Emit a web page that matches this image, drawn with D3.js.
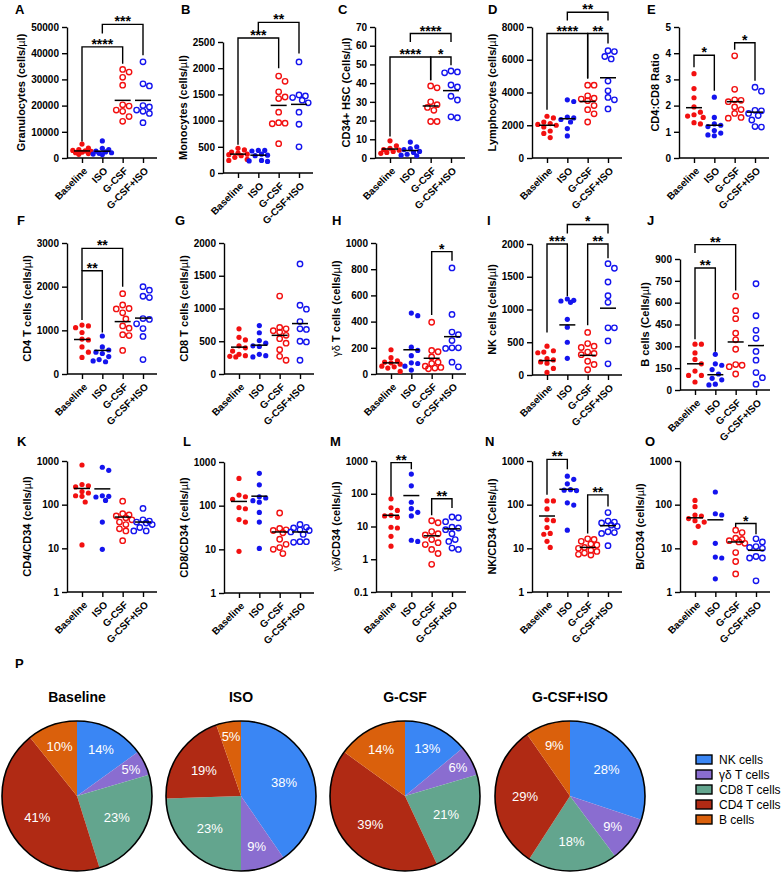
<!DOCTYPE html>
<html lang="en">
<head>
<meta charset="UTF-8">
<title>Blood cell counts after G-CSF and ISO</title>
<script src="https://d3js.org/d3.v7.min.js"></script>
<style>
  body { margin: 0; background: #fff; }
  svg { display: block; font-family: "Liberation Sans", Arial, sans-serif; }
  .axis path, .axis line { stroke: #000; stroke-width: 1.4px; }
  .axis text { font-size: 10px; font-weight: bold; fill: #000; font-family: "Liberation Sans", Arial, sans-serif; }
  .ytitle { font-size: 11px; font-weight: bold; }
  .letter { font-size: 13px; font-weight: bold; }
  .stars { font-size: 14px; font-weight: bold; }
  .pietitle { font-size: 14px; font-weight: bold; }
  .pielabel { font-size: 13px; fill: #fff; }
  .legend text { font-size: 12px; }
</style>
</head>
<body>
<svg id="fig" width="784" height="872"></svg>
<script>
// groups on every x axis
const groups = ["Baseline", "ISO", "G-CSF", "G-CSF+ISO"];

// A - granulocytes
const granulocytes = [
  [5300, 3800, 3200, 2900, 2700, 2500, 2200, 2000, 1700, 1400],
  [6500, 3700, 3200, 2600, 2300, 2000, 1800, 1500, 1300],
  [33800, 32800, 30800, 27800, 20300, 19800, 18300, 17800, 15800, 14000],
  [36700, 28300, 27500, 20000, 19500, 18300, 17800, 17000, 13500]
];
const granulocytesMean = [2700, 2600, 22000, 22000];
// [from, to, bar level, left leg end, right leg end, label]
const granulocytesSig = [[0, 2, 42400, 6300, 36000, "****"], [1, 3, 51000, 47500, 39200, "***"]];

// B - monocytes
const monocytes = [
  [470, 440, 400, 380, 360, 350, 330, 300, 260, 240],
  [430, 430, 420, 360, 340, 330, 240, 230, 220],
  [1850, 1750, 1550, 1450, 1420, 1160, 960, 950, 940, 560],
  [2120, 1490, 1470, 1440, 1390, 1340, 1160, 930, 500]
];
const monocytesMean = [360, 340, 1290, 1310];
const monocytesSig = [[0, 2, 2577, 540, 2000, "***"], [1, 3, 2875, 2670, 2280, "**"]];

// C - CD34+ HSC
const hsc = [
  [9.2, 6.5, 5.2, 4.5, 4.2, 3.5, 3, 2.5],
  [8.5, 6, 5, 4.5, 3.5, 3, 2, 1.5, 1.2],
  [38.5, 37.5, 30, 28.5, 27, 25.5, 19.5, 19.5],
  [46.5, 46, 45.5, 39, 38, 33, 31, 22, 21.5]
];
const hscMean = [4.8, 4, 27.8, 36];
const hscSig = [[0, 2, 54, 11.5, 41.6, "****"], [2, 3, 54, 41.6, 49.6, "*"], [1, 3, 66.5, 62, 62, "****"]];

// D - lymphocytes
const lymphocytes = [
  [2550, 2450, 2200, 2100, 2050, 2000, 1900, 1650, 1500, 1250],
  [3550, 3450, 2500, 2450, 2350, 2200, 1800, 1350],
  [4450, 4450, 3800, 3650, 3600, 3500, 3200, 2950, 2700, 2200],
  [6550, 6500, 6200, 6050, 4700, 4100, 3700, 3550, 3000]
];
const lymphocytesMean = [2000, 2400, 3450, 4900];
const lymphocytesSig = [[0, 2, 7600, 2950, 4860, "****"], [2, 3, 7600, 4860, 6990, "**"], [1, 3, 8900, 8400, 8400, "**"]];

// E - CD4:CD8 ratio
const cd4cd8 = [
  [3.22, 2.65, 2.3, 1.95, 1.75, 1.65, 1.6, 1.55, 1.35, 1.3],
  [2.32, 1.55, 1.3, 1.25, 1.2, 1.05, 0.95, 0.88, 0.85],
  [3.9, 2.62, 2.22, 2.2, 2.15, 1.95, 1.85, 1.7, 1.55, 1.52],
  [2.7, 2.55, 1.82, 1.8, 1.7, 1.62, 1.45, 1.2, 1.18]
];
const cd4cd8Mean = [1.92, 1.25, 2.15, 1.75];
const cd4cd8Sig = [[0, 1, 3.92, 3.46, 2.57, "*"], [2, 3, 4.4, 4.13, 2.95, "*"]];

// F - CD4 T cells
const cd4 = [
  [1120, 1100, 1060, 950, 800, 780, 620, 500, 380],
  [870, 620, 550, 500, 470, 400, 330, 300, 280],
  [1840, 1580, 1500, 1490, 1400, 1260, 1100, 1050, 900, 880, 540],
  [2000, 1920, 1780, 1750, 1270, 1250, 1150, 1040, 860, 330]
];
const cd4Mean = [790, 540, 1200, 1280];
const cd4Sig = [[0, 1, 2366, 1236, 950, "**"], [0, 2, 2878, 2366, 2000, "**"]];

// G - CD8 T cells
const cd8 = [
  [690, 560, 520, 430, 400, 350, 300, 280, 270, 260],
  [740, 630, 510, 470, 430, 420, 300, 280, 260],
  [1190, 710, 690, 660, 640, 590, 540, 470, 370, 270, 210],
  [1680, 1050, 990, 800, 690, 680, 500, 490, 210]
];
const cd8Mean = [410, 440, 590, 770];
const cd8Sig = [];

// H - gamma delta T cells
const gdT = [
  [185, 125, 100, 90, 85, 75, 60, 55, 45, 20],
  [465, 445, 205, 180, 140, 85, 80, 60, 30],
  [395, 180, 170, 130, 90, 80, 60, 50, 45, 40],
  [810, 455, 320, 300, 255, 200, 200, 195, 90, 55]
];
const gdTMean = [85, 185, 120, 285];
const gdTSig = [[2, 3, 934, 450, 865, "*"]];

// I - NK cells
const nk = [
  [440, 370, 350, 340, 250, 230, 200, 180, 100, 40],
  [1160, 1140, 1130, 1110, 850, 730, 500, 255],
  [650, 480, 440, 420, 350, 330, 310, 210, 160, 80],
  [1700, 1630, 1420, 1210, 1110, 720, 720, 520, 170]
];
const nkMean = [220, 765, 300, 1020];
const nkSig = [[0, 1, 2000, 647, 1202, "***"], [2, 3, 2000, 758, 1783, "**"], [1, 3, 2298, 2162, 2162, "*"]];

// J - B cells
const bCells = [
  [315, 315, 255, 210, 180, 130, 100, 100, 55],
  [245, 180, 170, 140, 110, 80, 70, 40, 35],
  [645, 545, 490, 390, 345, 280, 175, 170, 160, 110],
  [730, 510, 410, 355, 265, 205, 120, 85, 40]
];
const bCellsMean = [180, 105, 330, 305];
const bCellsSig = [[0, 1, 838, 348, 263, "**"], [0, 2, 999, 941, 684, "**"]];

// K-O - per CD34 (log axes)
const cd4PerCd34 = [
  [810, 290, 270, 255, 200, 185, 160, 155, 115, 12],
  [720, 610, 160, 155, 150, 125, 40, 9.5],
  [120, 62, 58, 55, 50, 45, 40, 35, 28, 25, 15],
  [82, 45, 42, 40, 38, 35, 30, 25, 25]
];
const cd4PerCd34Mean = [235, 230, 52, 40];

const cd8PerCd34 = [
  [420, 175, 160, 140, 90, 85, 48, 42, 9],
  [550, 300, 160, 150, 130, 120, 70, 42, 10.5],
  [68, 30, 28, 27, 24, 17, 13, 11, 10, 8],
  [37, 32, 31, 28, 27, 25, 22, 15, 15, 14.5]
];
const cd8PerCd34Mean = [125, 165, 25, 25];

const gdPerCd34 = [
  [70, 37, 31, 22, 21, 19, 9.5, 9, 5, 2.5],
  [400, 175, 55, 35, 27, 21, 3.8, 3.5],
  [15, 13, 7, 6, 5.5, 4, 3.2, 2.8, 2, 1.5, 0.7],
  [19.5, 18.5, 14, 9.5, 9, 8, 6, 4, 3.5, 2.2, 2]
];
const gdPerCd34Mean = [22, 88, 5.2, 8.5];
const gdPerCd34Sig = [[0, 1, 890, 83, 560, "**"], [2, 3, 70, 22, 37, "**"]];

const nkPerCd34 = [
  [122, 122, 80, 45, 43, 30, 22, 21, 14.5, 10.5],
  [450, 380, 300, 220, 215, 210, 110, 98, 26],
  [16.5, 16, 14.5, 12.5, 12, 10.5, 10, 9, 8.5, 7.8, 7.3, 7],
  [66, 42, 40, 38, 34, 32, 24, 23, 22, 11.5]
];
const nkPerCd34Mean = [55, 225, 10.5, 33];
const nkPerCd34Sig = [[0, 1, 1090, 168, 650, "**"], [2, 3, 168, 22, 91, "**"]];

const bPerCd34 = [
  [125, 90, 58, 55, 48, 43, 40, 32, 13.5],
  [195, 62, 58, 13, 6.3, 6, 2],
  [26, 23, 17, 16, 15, 14, 13, 8, 5, 2.6],
  [16.5, 14, 11, 10.5, 10, 6.5, 6, 6, 1.8]
];
const bPerCd34Mean = [50, 45, 14, 9];
const bPerCd34Sig = [[2, 3, 37, 31, 21, "*"]];

// P - pie charts
const cellTypes = ["NK cells", "γδ T cells", "CD8 T cells", "CD4 T cells", "B cells"];
const pieBaseline = [14, 5, 23, 41, 10];
const pieIso = [38, 9, 23, 19, 5];
const pieGcsf = [13, 6, 21, 39, 14];
const pieGcsfIso = [28, 9, 18, 29, 9];

const svg = d3.select("#fig");
const red = "#f21010", blue = "#1414ee";
const groupColor = [red, blue, red, blue];
const groupOpen = [false, false, true, true];
const cellColor = d3.scaleOrdinal().domain(cellTypes)
  .range(["#3a86f4", "#8a6dd0", "#63a58e", "#b02a14", "#da600c"]);

// panels: data + where they sit
const panels = [
  {id: "A", title: "Granulocytes (cells/µl)", data: granulocytes, mean: granulocytesMean, sig: granulocytesSig,
   domain: [0, 50000], ticks: d3.range(0, 50001, 10000), x: 67, top: 27, lx: 15, ly: 14},
  {id: "B", title: "Monocytes (cells/µl)", data: monocytes, mean: monocytesMean, sig: monocytesSig,
   domain: [0, 2500], ticks: d3.range(0, 2501, 500), x: 223, top: 42, lx: 181, ly: 14},
  {id: "C", title: "CD34+ HSC (Cells/µl)", data: hsc, mean: hscMean, sig: hscSig,
   domain: [0, 70], ticks: d3.range(0, 71, 10), x: 375, top: 27, lx: 338, ly: 14},
  {id: "D", title: "Lymphocytes (cells/µl)", data: lymphocytes, mean: lymphocytesMean, sig: lymphocytesSig,
   domain: [0, 8000], ticks: d3.range(0, 8001, 2000), x: 532, top: 27, lx: 488, ly: 14},
  {id: "E", title: "CD4:CD8 Ratio", data: cd4cd8, mean: cd4cd8Mean, sig: cd4cd8Sig,
   domain: [0, 5], ticks: d3.range(0, 6, 1), x: 679, top: 27, lx: 647, ly: 14},
  {id: "F", title: "CD4 T cells (cells/µl)", data: cd4, mean: cd4Mean, sig: cd4Sig,
   domain: [0, 3000], ticks: d3.range(0, 3001, 1000), x: 67, top: 243, lx: 17, ly: 225},
  {id: "G", title: "CD8 T cells (cells/µl)", data: cd8, mean: cd8Mean, sig: cd8Sig,
   domain: [0, 2000], ticks: d3.range(0, 2001, 500), x: 224, top: 243, lx: 175, ly: 225},
  {id: "H", title: "γδ T cells (cells/µl)", data: gdT, mean: gdTMean, sig: gdTSig,
   domain: [0, 1000], ticks: d3.range(0, 1001, 200), x: 376, top: 243, lx: 332, ly: 225},
  {id: "I", title: "NK cells (cells/µl)", data: nk, mean: nkMean, sig: nkSig,
   domain: [0, 2000], ticks: d3.range(0, 2001, 500), x: 532, top: 244, lx: 487, ly: 225},
  {id: "J", title: "B cells (Cells/µl)", data: bCells, mean: bCellsMean, sig: bCellsSig,
   domain: [0, 900], ticks: d3.range(0, 901, 150), x: 680, top: 259, lx: 647, ly: 225},
  {id: "K", title: "CD4/CD34 (cells/µl)", data: cd4PerCd34, mean: cd4PerCd34Mean, sig: [], log: true,
   domain: [1, 1000], ticks: [1, 10, 100, 1000], x: 67, top: 461, lx: 17, ly: 446},
  {id: "L", title: "CD8/CD34 (cells/µl)", data: cd8PerCd34, mean: cd8PerCd34Mean, sig: [], log: true,
   domain: [1, 1000], ticks: [1, 10, 100, 1000], x: 224, top: 462, lx: 183, ly: 446},
  {id: "M", title: "γδ/CD34 (cells/µl)", data: gdPerCd34, mean: gdPerCd34Mean, sig: gdPerCd34Sig, log: true,
   domain: [0.1, 1000], ticks: [0.1, 1, 10, 100, 1000], x: 376, top: 461, lx: 330, ly: 446},
  {id: "N", title: "NK/CD34 (Cells/µl)", data: nkPerCd34, mean: nkPerCd34Mean, sig: nkPerCd34Sig, log: true,
   domain: [1, 1000], ticks: [1, 10, 100, 1000], x: 532, top: 461, lx: 485, ly: 446},
  {id: "O", title: "B/CD34 (cells/µl)", data: bPerCd34, mean: bPerCd34Mean, sig: bPerCd34Sig, log: true,
   domain: [1, 1000], ticks: [1, 10, 100, 1000], x: 680, top: 461, lx: 645, ly: 446}
];

// small beeswarm, kept inside +-9px of the group centre; dense clusters overlap
function swarm(vals, cx, y, d) {
  const placed = [];
  const offsets = [0, 3.2, -3.2, 6.4, -6.4, 9.2, -9.2];
  vals.slice().sort((a, b) => b - a).forEach(v => {
    const py = y(v);
    let best = null, bestGap = -1;
    for (const o of offsets) {
      const px = cx + o;
      const gap = placed.length ? d3.min(placed, q => Math.hypot(q.x - px, q.y - py)) : Infinity;
      if (gap >= d) { best = px; break; }
      if (gap > bestGap) { bestGap = gap; best = px; }
    }
    placed.push({x: best, y: py});
  });
  return placed;
}

function addTitle(sel, str) {
  // greek letters / micro are drawn in the plain weight, like the original
  str.split(/([µγδ]+)/).forEach(part => {
    if (!part) return;
    sel.append("tspan").text(part)
      .style("font-weight", /[µγδ]/.test(part) ? "normal" : "bold");
  });
}

function drawPanel(p) {
  const g = svg.append("g");
  const bottom = p.top + 131;
  const x = d3.scalePoint().domain(groups).range([p.x + 15, p.x + 76]);
  const y = (p.log ? d3.scaleLog() : d3.scaleLinear()).domain(p.domain).range([bottom, p.top]);

  const yAxis = g.append("g").attr("class", "axis").attr("transform", `translate(${p.x},0)`)
    .call(d3.axisLeft(y).tickValues(p.ticks).tickFormat(d => String(d)).tickSize(5).tickSizeOuter(0));
  const xAxis = g.append("g").attr("class", "axis").attr("transform", `translate(0,${bottom})`)
    .call(d3.axisBottom(x).tickSize(5).tickSizeOuter(0));
  xAxis.select(".domain").attr("d", `M${p.x},0H${p.x + 90}`);
  xAxis.selectAll("text")
    .attr("x", 0).attr("y", 0).attr("dy", "0.35em")
    .attr("transform", "translate(3,11) rotate(-45)")
    .style("text-anchor", "end");

  const lw = d3.max(yAxis.selectAll("text").nodes(), n => n.getComputedTextLength());
  const t = g.append("text").attr("class", "ytitle").attr("text-anchor", "middle")
    .attr("transform", `translate(${p.x - 8 - lw - 6},${(p.top + bottom) / 2}) rotate(-90)`);
  addTitle(t, p.title);

  g.append("text").attr("class", "letter").attr("x", p.lx).attr("y", p.ly).text(p.id);

  p.data.forEach((vals, i) => {
    const pts = swarm(vals, x(groups[i]), y, 6.2);
    g.append("g").selectAll("circle").data(pts).join("circle")
      .attr("cx", d => d.x).attr("cy", d => d.y)
      .attr("r", groupOpen[i] ? 2.7 : 2.6)
      .attr("fill", groupOpen[i] ? "none" : groupColor[i])
      .attr("stroke", groupOpen[i] ? groupColor[i] : "none")
      .attr("stroke-width", 1.4);
  });

  g.append("g").selectAll("line").data(p.mean).join("line")
    .attr("x1", (d, i) => x(groups[i]) - 8).attr("x2", (d, i) => x(groups[i]) + 8)
    .attr("y1", d => y(d)).attr("y2", d => y(d))
    .attr("stroke", "#000").attr("stroke-width", 1.5);

  p.sig.forEach(s => {
    const xa = x(groups[s[0]]), xb = x(groups[s[1]]);
    g.append("path")
      .attr("d", `M${xa},${y(s[3])}V${y(s[2])}H${xb}V${y(s[4])}`)
      .attr("fill", "none").attr("stroke", "#000").attr("stroke-width", 1.4);
    g.append("text").attr("class", "stars").attr("text-anchor", "middle")
      .attr("x", (xa + xb) / 2).attr("y", y(s[2]) + 2).text(s[5]);
  });
}

panels.forEach(drawPanel);

// pies
svg.append("text").attr("class", "letter").attr("x", 15).attr("y", 668).text("P");

const pies = [
  {name: "Baseline", values: pieBaseline, cx: 77},
  {name: "ISO", values: pieIso, cx: 241},
  {name: "G-CSF", values: pieGcsf, cx: 405},
  {name: "G-CSF+ISO", values: pieGcsfIso, cx: 570}
];
const R = 75, cy = 796;
const pie = d3.pie().sort(null).value(d => d);
const arc = d3.arc().innerRadius(0).outerRadius(R);

pies.forEach(pd => {
  svg.append("text").attr("class", "pietitle").attr("text-anchor", "middle")
    .attr("x", pd.cx).attr("y", 702).text(pd.name);
  const g = svg.append("g").attr("transform", `translate(${pd.cx},${cy})`);
  const arcs = pie(pd.values);
  g.selectAll("path").data(arcs).join("path")
    .attr("d", arc).attr("fill", (d, i) => cellColor(cellTypes[i]));
  g.append("circle").attr("r", R).attr("fill", "none").attr("stroke", "#000").attr("stroke-width", 1.6);
  g.selectAll("text").data(arcs).join("text")
    .attr("class", "pielabel").attr("text-anchor", "middle").attr("dy", "0.35em")
    .attr("transform", d => {
      const a = (d.startAngle + d.endAngle) / 2;
      const f = d.value < 8 ? 0.8 : d.value < 15 ? 0.7 : 0.6;
      return `translate(${Math.sin(a) * R * f},${-Math.cos(a) * R * f})`;
    })
    .text(d => d.value + "%");
});

const legend = svg.append("g").attr("class", "legend");
cellTypes.forEach((c, i) => {
  legend.append("rect").attr("x", 696).attr("y", 755 + i * 15).attr("width", 16).attr("height", 9)
    .attr("fill", cellColor(c)).attr("stroke", "#000").attr("stroke-width", 1.4);
  legend.append("text").attr("x", 719).attr("y", 759.5 + i * 15).attr("dy", "0.35em").text(c);
});
</script>
</body>
</html>
